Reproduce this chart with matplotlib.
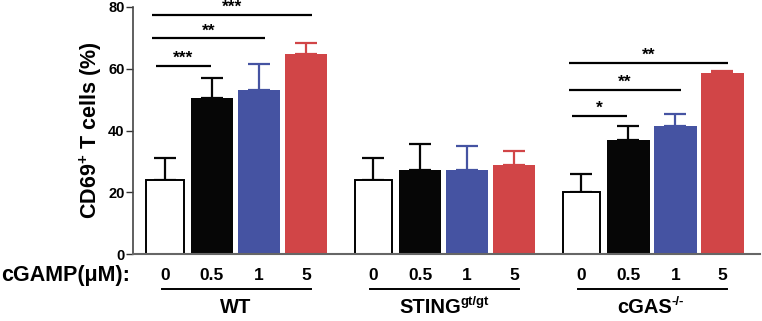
import matplotlib
matplotlib.use("Agg")
import matplotlib.pyplot as plt
import matplotlib.transforms as mtransforms
import numpy as np

plt.rcParams['font.family'] = ['Liberation Sans', 'DejaVu Sans']
plt.rcParams['font.weight'] = 'bold'

doses = ["0", "0.5", "1", "5"]
group_names = ["WT", "STING", "cGAS"]
group_sups = ["", "gt/gt", "-/-"]
means = {
    "WT":    [24.0, 50.4, 53.2, 64.8],
    "STING": [24.0, 27.1, 27.1, 28.7],
    "cGAS":  [20.0, 37.0, 41.4, 58.7],
}
errs = {
    "WT":    [7.0, 6.7, 8.4, 3.7],
    "STING": [7.0, 8.4, 7.9, 4.5],
    "cGAS":  [6.0, 4.5, 4.0, 0.7],
}
# significance: (group index, bar i, bar j, level, label)
sig = [
    (0, 0, 1, 61.0, "***"),
    (0, 0, 2, 69.8, "**"),
    (0, 0, 3, 77.4, "***"),
    (2, 0, 1, 44.8, "*"),
    (2, 0, 2, 53.1, "**"),
    (2, 0, 3, 62.0, "**"),
]
keys = ["WT", "STING", "cGAS"]
fill_colors = ["white", "#060606", "#4553a2", "#d14547"]
err_colors = ["#060606", "#060606", "#4553a2", "#d14547"]

fig = plt.figure(figsize=(7.62, 3.21), dpi=100)
ax = fig.add_axes([133/762, 1-254/321, 627/762, 247/321])

gstep = 4.43
bw = 0.9
for g, k in enumerate(keys):
    for i in range(4):
        x = g*gstep + i
        m = means[k][i]
        e = errs[k][i]
        if i == 0:
            ax.bar(x, m, width=bw*0.88, color='white', edgecolor='black', linewidth=1.4, zorder=2)
        else:
            ax.bar(x, m, width=bw, color=fill_colors[i], edgecolor='none', zorder=2)
        ax.errorbar(x, m, yerr=[[0], [e]], fmt='none', ecolor=err_colors[i],
                    elinewidth=1.6, capsize=8, capthick=1.6, zorder=1)

for g, i, j, lev, lab in sig:
    x0 = g*gstep + i - 0.27
    x1 = g*gstep + j + 0.12
    if j == 1:
        x0 = g*gstep + i - 0.2
        x1 = g*gstep + j - 0.02
    ax.plot([x0, x1], [lev, lev], color='black', lw=1.6, solid_capstyle='butt', clip_on=False)
    ax.annotate(lab, xy=((x0+x1)/2, lev), xytext=(0, 5.5), textcoords='offset points',
                ha='center', va='center', fontsize=12.5, fontweight='bold', annotation_clip=False)

ax.set_xlim(-0.68, 12.66)
ax.set_ylim(0, 80)
ax.set_yticks([0, 20, 40, 60, 80])
ax.tick_params(axis='y', labelsize=10.5, length=5, width=1, pad=1, colors='#333333', labelcolor='black')
ax.set_xticks([])
for s in ['top', 'right']:
    ax.spines[s].set_visible(False)
ax.spines['left'].set_color('#444444')
ax.spines['left'].set_linewidth(1.2)
ax.spines['bottom'].set_color('#666666')
ax.spines['bottom'].set_linewidth(1.5)
ax.set_ylabel("CD69$^{\\mathregular{+}}$ T cells (%)", fontsize=15.5, fontweight='bold', labelpad=3)

tr = mtransforms.blended_transform_factory(ax.transData, ax.transAxes)
base_shift = [0.0, -0.28, -0.15]
for g in range(3):
    for i in range(4):
        ax.text(g*gstep + i, -0.089, doses[i], transform=tr, ha='center', va='center',
                fontsize=12.5, fontweight='bold', clip_on=False)
    ax.plot([g*gstep - 0.07, g*gstep + 3.1], [-0.142, -0.142], transform=tr, color='black',
            lw=1.4, clip_on=False)
    t = ax.text(g*gstep + 1.5 + base_shift[g], -0.215, group_names[g], transform=tr,
                ha='center', va='center', fontsize=14.5, fontweight='bold', clip_on=False)
    if group_sups[g]:
        ax.annotate(group_sups[g], xy=(1.0, 0.78), xycoords=t, xytext=(-0.8, 0),
                    textcoords='offset points', ha='left', va='center',
                    fontsize=9.5, fontweight='bold', annotation_clip=False)
ax.text(-0.005, -0.089, "cGAMP(μM):", transform=ax.transAxes, ha='right', va='center',
        fontsize=15.5, fontweight='bold', clip_on=False)

fig.savefig("out.png", dpi=100)
